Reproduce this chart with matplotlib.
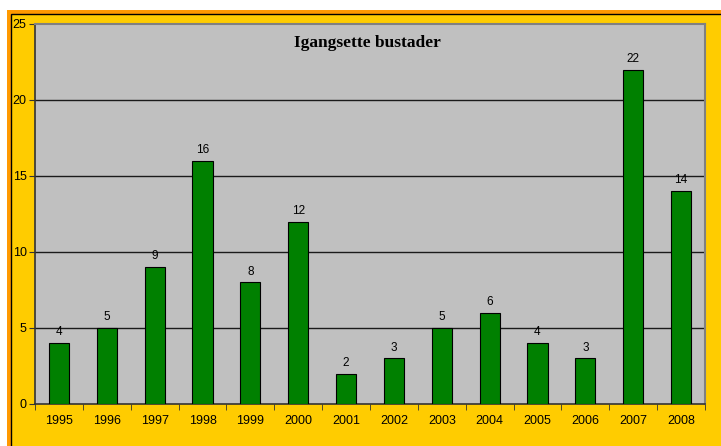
import matplotlib
matplotlib.use("Agg")
import matplotlib.pyplot as plt
from matplotlib.patches import Rectangle
import numpy as np

years = ["1995", "1996", "1997", "1998", "1999", "2000", "2001",
         "2002", "2003", "2004", "2005", "2006", "2007", "2008"]
values = [4, 5, 9, 16, 8, 12, 2, 3, 5, 6, 4, 3, 22, 14]
yticks = [0, 5, 10, 15, 20, 25]
title = "Igangsette bustader"

W, H = 721, 446
fig = plt.figure(figsize=(W / 100, H / 100), dpi=100)
fig.patch.set_facecolor("white")

# outer frame: orange band, thin black line, yellow fill
fig.add_artist(Rectangle((7 / W, -0.1), 1.2, (H - 10) / H + 0.1,
                         transform=fig.transFigure, facecolor="#FF9900",
                         edgecolor="none", zorder=-20))
fig.add_artist(Rectangle((10.5 / W, -0.1), 1.2, (H - 13.5) / H + 0.1,
                         transform=fig.transFigure, facecolor="#FFCC00",
                         edgecolor="black", linewidth=1.0, zorder=-10))

ax = fig.add_axes([35 / W, (H - 404) / H, 670 / W, 380 / H])
ax.set_zorder(1)
ax.set_facecolor("#C0C0C0")

x = np.arange(len(years))
ax.bar(x, values, width=0.42, color="#008000", edgecolor="black",
       linewidth=0.8, zorder=3)
for xi, v in zip(x, values):
    ax.annotate(str(v), (xi, v), xytext=(0, 3.5), textcoords="offset points",
                ha="center", va="bottom", fontsize=8.5, family="Liberation Sans",
                zorder=4)

ax.set_xlim(-0.5, len(years) - 0.5)
ax.set_ylim(0, 25)
ax.set_yticks(yticks)
ax.set_yticklabels([str(t) for t in yticks], fontsize=9, family="Liberation Sans")
ax.set_xticks(x)
ax.set_xticklabels(years, fontsize=9, family="Liberation Sans")
ax.set_xticks(np.arange(len(years) + 1) - 0.5, minor=True)
ax.tick_params(axis="x", which="major", length=0, pad=8)
ax.tick_params(axis="x", which="minor", length=4, direction="out", color="#333333")
ax.tick_params(axis="y", length=4, direction="out", pad=2, color="#333333")

for t in yticks[1:-1]:
    ax.axhline(t, color="#1a1a1a", linewidth=1.0, zorder=1)

for side in ["top", "right"]:
    ax.spines[side].set_color("#808080")
    ax.spines[side].set_linewidth(1.5)
for side in ["left", "bottom"]:
    ax.spines[side].set_color("#333333")
    ax.spines[side].set_linewidth(1.2)

ax.text(0.496, 0.95, title, transform=ax.transAxes, ha="center", va="center",
        fontsize=12.5, fontweight="bold", family="Liberation Serif")

fig.savefig("out.png", dpi=100)
